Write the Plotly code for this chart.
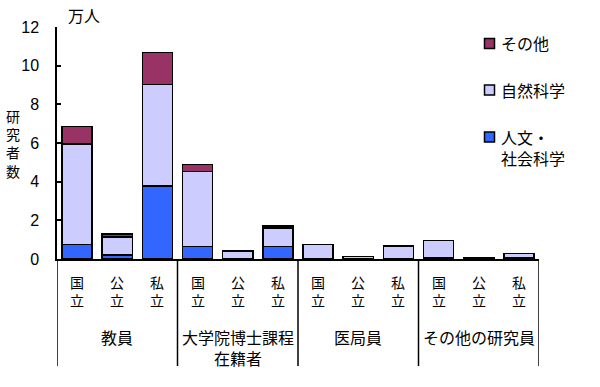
import plotly.graph_objects as go

groups = ["教員", "大学院博士課程<br>在籍者", "医局員", "その他の研究員"]
types = ["国<br>立", "公<br>立", "私<br>立"]
humanities = [0.75, 0.20, 3.78, 0.65, 0.03, 0.65, 0.00, 0.00, 0.00, 0.04, 0.00, 0.05]
natural = [5.20, 0.93, 5.24, 3.87, 0.37, 0.95, 0.75, 0.12, 0.67, 0.92, 0.08, 0.24]
other = [0.90, 0.17, 1.67, 0.36, 0.02, 0.10, 0.00, 0.00, 0.00, 0.00, 0.00, 0.00]
yticks = [0, 2, 4, 6, 8, 10, 12]
ytitle = "研<br>究<br>者<br>数"
series_names = ["人文・<br>社会科学", "自然科学", "その他"]
colors = ["#3366FF", "#CCCCFF", "#993366"]

FONT = "Noto Sans CJK JP"
FS = 16
L, R, T, B = 57, 539, 27, 259
PW, PH = R - L, B - T


def px(xp):
    return (xp - L) / PW


def py(yp):
    return (B - yp) / PH


x = list(range(12))
line = dict(color="black", width=1.5)

fig = go.Figure()
for vals, name, c in zip([humanities, natural, other], series_names, colors):
    fig.add_bar(x=x, y=vals, name=name, marker=dict(color=c, line=line), width=0.75)

fig.update_layout(
    barmode="stack",
    width=600, height=387,
    margin=dict(l=L, r=600 - R, t=T, b=387 - B, autoexpand=False),
    plot_bgcolor="white", paper_bgcolor="white",
    font=dict(family=FONT, size=FS, color="black"),
    showlegend=False,
    xaxis=dict(range=[-0.5, 11.5], showticklabels=False, showline=True,
               linecolor="black", linewidth=1.5, ticks="", showgrid=False,
               zeroline=False),
    yaxis=dict(range=[0, 12], tickvals=yticks, showline=True, linecolor="black",
               linewidth=1.5, showgrid=False, zeroline=False, ticks="inside",
               ticklen=4, tickwidth=1.5, tickcolor="black",
               ticklabelstandoff=13, tickfont=dict(size=16, family="Liberation Sans")),
)

for xs in [-0.5, 2.5, 5.5, 8.5, 11.5]:
    fig.add_shape(type="line", xref="x", yref="paper", x0=xs, x1=xs,
                  y0=0, y1=py(366), line=dict(color="black", width=1.5))

for i in range(12):
    fig.add_annotation(x=i, xref="x", yref="paper", y=py(291), yanchor="middle",
                       text=types[i % 3], showarrow=False, align="center",
                       font=dict(size=14))
for g, name in enumerate(groups):
    fig.add_annotation(x=g * 3 + 1, xref="x", yref="paper", y=py(323), yanchor="top",
                       text=name, showarrow=False, align="center")

fig.add_annotation(x=px(13), y=py(143.5), xref="paper", yref="paper",
                   xanchor="center", yanchor="middle", text=ytitle, showarrow=False,
                   align="center", font=dict(size=14))
fig.add_annotation(x=px(66), y=py(15), xref="paper", yref="paper", xanchor="left",
                   yanchor="middle", text="万人", showarrow=False)

# legend (drawn manually)
legend_items = [("その他", colors[2], 43.5, 43), ("自然科学", colors[1], 90, 90),
                ("人文・<br>社会科学", colors[0], 137, 147.5)]
for text, c, sy, ty in legend_items:
    fig.add_shape(type="rect", xref="paper", yref="paper",
                  x0=px(484.5), x1=px(494.5), y0=py(sy - 5), y1=py(sy + 5),
                  fillcolor=c, line=dict(color="black", width=1.5))
    fig.add_annotation(x=px(499), y=py(ty), xref="paper", yref="paper",
                       xanchor="left", yanchor="middle", text=text, align="left",
                       showarrow=False)

fig.write_html("out.html")
